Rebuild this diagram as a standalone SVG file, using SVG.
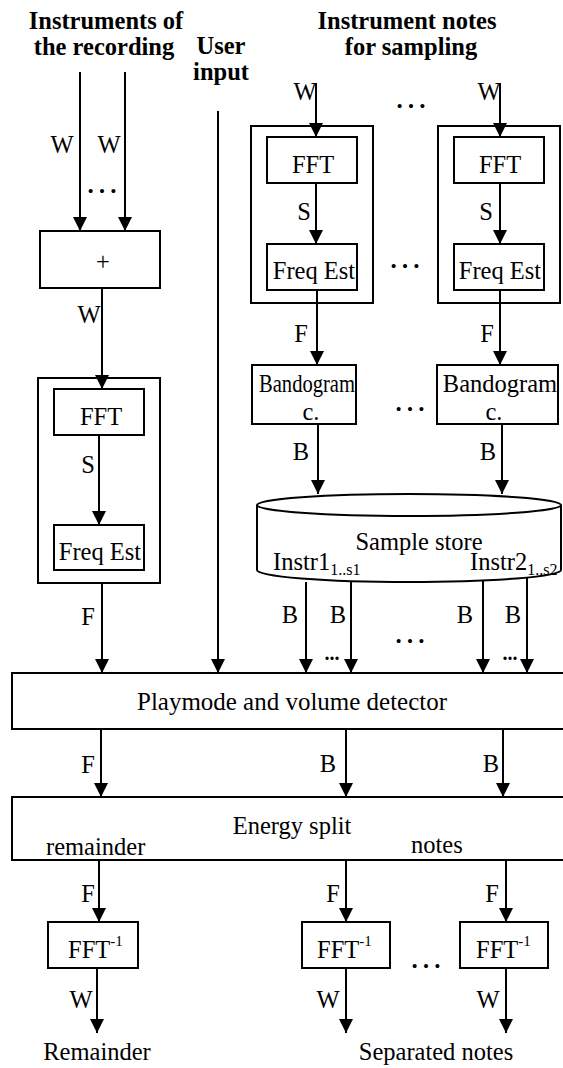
<svg xmlns="http://www.w3.org/2000/svg" width="563" height="1068" viewBox="0 0 563 1068">
  <defs>
    <marker id="arrow" markerUnits="userSpaceOnUse" markerWidth="14" markerHeight="14" refX="14" refY="7" orient="auto">
      <path d="M0,0 L14,7 L0,14 z" fill="#000"/>
    </marker>
  </defs>
  <style>
    text { font-family: "Liberation Serif", "Times New Roman", serif; font-size: 24.5px; fill: #000; }
    .head { font-weight: bold; text-anchor: middle; }
    .mid { text-anchor: middle; }
    .end { text-anchor: end; }
    .sub { font-size: 16px; }
    .sup { font-size: 15px; }
    .dots { font-size: 34px; text-anchor: middle; }
    .bdots { font-size: 20px; font-weight: bold; text-anchor: middle; }
    .box { fill: #fff; stroke: #000; stroke-width: 2; }
    .frame { fill: none; stroke: #000; stroke-width: 2; }
    .wire { fill: none; stroke: #000; stroke-width: 2; marker-end: url(#arrow); }
    .line { fill: none; stroke: #000; stroke-width: 2; }
  </style>

  <rect width="563" height="1068" fill="#fff"/>

  <!-- column headings -->
  <g id="headings">
    <text class="head" x="106" y="29">Instruments of</text>
    <text class="head" x="104" y="55">the recording</text>
    <text class="head" x="221" y="54">User</text>
    <text class="head" x="221" y="80">input</text>
    <text class="head" x="407" y="29">Instrument notes</text>
    <text class="head" x="411" y="55">for sampling</text>
  </g>

  <!-- mixer -->
  <g id="mix">
    <rect class="box" x="40" y="231" width="120" height="57"/>
    <text class="mid" x="103" y="270">+</text>
  </g>

  <!-- analysis chain of the recording -->
  <g id="rec-analysis">
    <rect class="frame" x="38" y="378" width="122" height="205"/>
    <g id="rec-fft">
      <rect class="box" x="54" y="389" width="90" height="46"/>
      <text class="mid" x="101" y="425">FFT</text>
    </g>
    <g id="rec-freq">
      <rect class="box" x="54" y="525" width="90" height="45"/>
      <text class="mid" x="100" y="560">Freq Est</text>
    </g>
  </g>

  <!-- analysis chains of the sampled notes -->
  <g id="smp1-analysis">
    <rect class="frame" x="251" y="126" width="122" height="177"/>
    <g id="smp1-fft">
      <rect class="box" x="267" y="137" width="90" height="46"/>
      <text class="mid" x="313" y="173">FFT</text>
    </g>
    <g id="smp1-freq">
      <rect class="box" x="267" y="244" width="90" height="46"/>
      <text class="mid" x="314" y="279">Freq Est</text>
    </g>
  </g>
  <g id="smp2-analysis">
    <rect class="frame" x="438" y="126" width="122" height="177"/>
    <g id="smp2-fft">
      <rect class="box" x="454" y="137" width="90" height="46"/>
      <text class="mid" x="500" y="173">FFT</text>
    </g>
    <g id="smp2-freq">
      <rect class="box" x="454" y="244" width="90" height="46"/>
      <text class="mid" x="500" y="279">Freq Est</text>
    </g>
  </g>

  <!-- bandogram calculators -->
  <g id="band1">
    <rect class="box" x="252" y="365" width="104" height="59"/>
    <text x="259" y="392" textLength="96" lengthAdjust="spacingAndGlyphs">Bandogram</text>
    <text class="mid" x="311" y="420">c.</text>
  </g>
  <g id="band2">
    <rect class="box" x="437" y="365" width="121" height="59"/>
    <text class="mid" x="500" y="392">Bandogram</text>
    <text class="mid" x="494" y="420">c.</text>
  </g>

  <!-- sample store -->
  <g id="store">
    <path class="box" d="M257,505 L257,570 A152,12 0 0 0 561,570 L561,505"/>
    <ellipse class="box" cx="409" cy="505" rx="152" ry="11"/>
    <text class="mid" x="419" y="550">Sample store</text>
    <text x="273" y="570">Instr1<tspan class="sub" dy="5">1..s1</tspan></text>
    <text x="470" y="570">Instr2<tspan class="sub" dy="5">1..s2</tspan></text>
  </g>

  <!-- detector and splitter bars -->
  <g id="detector">
    <rect class="box" x="12" y="673" width="570" height="56"/>
    <text x="137" y="710" textLength="310" lengthAdjust="spacingAndGlyphs">Playmode and volume detector</text>
  </g>
  <g id="splitter">
    <rect class="box" x="12" y="797" width="570" height="63"/>
    <text class="mid" x="292" y="834">Energy split</text>
    <text x="46" y="855">remainder</text>
    <text x="411" y="853">notes</text>
  </g>

  <!-- inverse transforms -->
  <g id="ifft1">
    <rect class="box" x="48" y="922" width="90" height="46"/>
    <text x="68" y="958">FFT<tspan class="sup" dy="-12">-1</tspan></text>
  </g>
  <g id="ifft2">
    <rect class="box" x="302" y="922" width="88" height="46"/>
    <text x="317" y="958">FFT<tspan class="sup" dy="-12">-1</tspan></text>
  </g>
  <g id="ifft3">
    <rect class="box" x="460" y="922" width="88" height="46"/>
    <text x="476" y="958">FFT<tspan class="sup" dy="-12">-1</tspan></text>
  </g>

  <!-- outputs -->
  <g id="outputs">
    <text class="mid" x="97" y="1060">Remainder</text>
    <text class="mid" x="436" y="1060">Separated notes</text>
  </g>

  <!-- connectors -->
  <g id="connectors">
    <!-- recording inputs into the mixer -->
    <line class="wire" x1="80" y1="72" x2="80" y2="231"/>
    <line class="wire" x1="125" y1="72" x2="125" y2="231"/>
    <!-- mixer to FFT -->
    <line class="wire" x1="102" y1="288" x2="102" y2="389"/>
    <line class="wire" x1="99" y1="435" x2="99" y2="525"/>
    <line class="wire" x1="102" y1="583" x2="102" y2="673"/>
    <!-- user input -->
    <line class="wire" x1="218" y1="111" x2="218" y2="673"/>
    <!-- sampled notes -->
    <line class="wire" x1="316" y1="83" x2="316" y2="137"/>
    <line class="wire" x1="316" y1="183" x2="316" y2="244"/>
    <line class="wire" x1="317" y1="290" x2="317" y2="365"/>
    <line class="wire" x1="318" y1="424" x2="318" y2="494"/>
    <line class="wire" x1="500" y1="83" x2="500" y2="137"/>
    <line class="wire" x1="500" y1="183" x2="500" y2="244"/>
    <line class="wire" x1="500" y1="290" x2="500" y2="365"/>
    <line class="wire" x1="502" y1="424" x2="502" y2="494"/>
    <!-- store to detector -->
    <line class="wire" x1="306" y1="582" x2="306" y2="673"/>
    <line class="wire" x1="351" y1="582" x2="351" y2="673"/>
    <line class="wire" x1="483" y1="580" x2="483" y2="673"/>
    <line class="wire" x1="527" y1="578" x2="527" y2="673"/>
    <!-- detector to splitter -->
    <line class="wire" x1="101" y1="729" x2="101" y2="797"/>
    <line class="wire" x1="346" y1="729" x2="346" y2="797"/>
    <line class="wire" x1="503" y1="729" x2="503" y2="797"/>
    <!-- splitter to inverse transforms -->
    <line class="wire" x1="99" y1="860" x2="99" y2="922"/>
    <line class="wire" x1="346" y1="860" x2="346" y2="922"/>
    <line class="wire" x1="506" y1="860" x2="506" y2="922"/>
    <!-- inverse transforms to outputs -->
    <line class="wire" x1="97" y1="968" x2="97" y2="1033"/>
    <line class="wire" x1="346" y1="968" x2="346" y2="1033"/>
    <line class="wire" x1="506" y1="968" x2="506" y2="1033"/>

    <!-- signal labels -->
    <text class="mid" x="62" y="153">W</text>
    <text class="mid" x="109" y="153">W</text>
    <text class="mid" x="89" y="323">W</text>
    <text class="mid" x="88" y="473">S</text>
    <text class="mid" x="88" y="625">F</text>
    <text class="mid" x="305" y="100">W</text>
    <text class="mid" x="489" y="100">W</text>
    <text class="mid" x="304" y="220">S</text>
    <text class="mid" x="486" y="220">S</text>
    <text class="mid" x="301" y="342">F</text>
    <text class="mid" x="487" y="342">F</text>
    <text class="mid" x="301" y="460">B</text>
    <text class="mid" x="488" y="460">B</text>
    <text class="mid" x="290" y="623">B</text>
    <text class="mid" x="338" y="623">B</text>
    <text class="mid" x="465" y="623">B</text>
    <text class="mid" x="513" y="623">B</text>
    <text class="mid" x="88" y="773">F</text>
    <text class="mid" x="328" y="772">B</text>
    <text class="mid" x="491" y="772">B</text>
    <text class="mid" x="88" y="902">F</text>
    <text class="mid" x="333" y="902">F</text>
    <text class="mid" x="492" y="902">F</text>
    <text class="mid" x="81" y="1008">W</text>
    <text class="mid" x="328" y="1008">W</text>
    <text class="mid" x="488" y="1008">W</text>

    <!-- ellipses for repeated channels -->
    <text class="dots" x="102" y="193">…</text>
    <text class="dots" x="411" y="108">…</text>
    <text class="dots" x="405" y="268">…</text>
    <text class="dots" x="410" y="411">…</text>
    <text class="dots" x="410" y="643">…</text>
    <text class="bdots" x="332" y="660">...</text>
    <text class="bdots" x="510" y="660">...</text>
    <text class="dots" x="426" y="968">…</text>
  </g>
</svg>
